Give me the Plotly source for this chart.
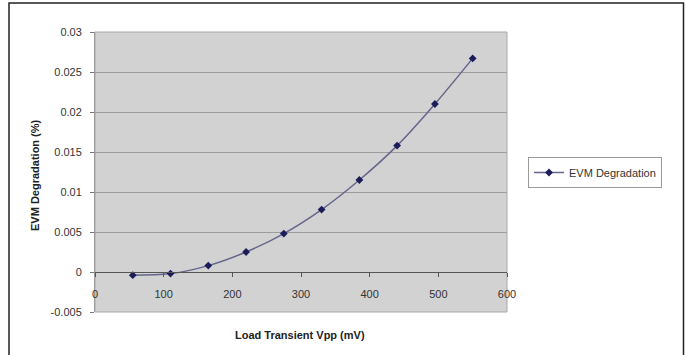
import plotly.graph_objects as go

load_mv = [55, 110, 165, 220, 275, 330, 385, 440, 495, 550]
evm_deg = [-0.0004, -0.0002, 0.0008, 0.0025, 0.0048, 0.0078, 0.0115, 0.0158, 0.0210, 0.0267]
series_name = "EVM Degradation"
x_ticks = [0, 100, 200, 300, 400, 500, 600]
y_ticks = [-0.005, 0, 0.005, 0.01, 0.015, 0.02, 0.025, 0.03]
y_ticktext = ["-0.005", "0", "0.005", "0.01", "0.015", "0.02", "0.025", "0.03"]

W, H = 687, 355
L, R, T, B = 95, 507, 32, 312
pw, ph = R - L, B - T

def px(x):
    return (x - L) / pw

def py(y):
    return (B - y) / ph

font = "Arial, Liberation Sans, sans-serif"

fig = go.Figure()
fig.add_trace(go.Scatter(
    x=load_mv, y=evm_deg, name=series_name, mode="lines+markers",
    line=dict(color="#66668c", width=1.5, shape="spline"),
    marker=dict(symbol="diamond", size=6, color="#1c1c5a"),
))

ymin, ymax = -0.005, 0.03
fig.update_layout(
    width=W, height=H,
    margin=dict(l=L, r=W - R, t=T, b=H - B, pad=0),
    paper_bgcolor="white",
    plot_bgcolor="#d2d2d2",
    font=dict(family=font, size=11, color="#333333"),
    showlegend=True,
    legend=dict(
        x=px(528), y=py(172.5), xanchor="left", yanchor="middle",
        bordercolor="#9a9a9a", borderwidth=1, bgcolor="white",
        font=dict(size=11, color="#333333"),
        itemwidth=30,
    ),
    xaxis=dict(
        range=[0, 600], tickvals=x_ticks, anchor="free",
        position=(0 - ymin) / (ymax - ymin),
        showgrid=False, zeroline=False, showline=True, linecolor="#555555", linewidth=1,
        ticks="outside", ticklen=4, tickcolor="#555555", ticklabelstandoff=8,
        tickfont=dict(size=11, color="#333333"),
    ),
    yaxis=dict(
        range=[ymin, ymax], tickvals=y_ticks, ticktext=y_ticktext,
        showgrid=True, gridcolor="#9c9c9c", gridwidth=1,
        zeroline=False, showline=True, linecolor="#9c9c9c",
        ticks="outside", ticklen=4, tickcolor="#777777", ticklabelstandoff=6,
        tickfont=dict(size=11, color="#333333"),
    ),
    shapes=[
        dict(type="rect", xref="paper", yref="paper",
             x0=px(9), x1=px(683.5), y0=py(358), y1=py(3),
             line=dict(color="#222222", width=1.5), fillcolor="rgba(0,0,0,0)", layer="above"),
        dict(type="rect", xref="paper", yref="paper",
             x0=0, x1=1, y0=0, y1=1,
             line=dict(color="#a8a8a8", width=1), fillcolor="rgba(0,0,0,0)", layer="below"),
    ],
    annotations=[
        dict(text="<b>EVM Degradation (%)</b>", xref="paper", yref="paper",
             x=px(35), y=py(175), textangle=-90, showarrow=False,
             font=dict(size=11, color="#222222"), xanchor="center", yanchor="middle"),
        dict(text="<b>Load Transient Vpp (mV)</b>", xref="paper", yref="paper",
             x=px(300), y=py(335), showarrow=False,
             font=dict(size=11, color="#222222"), xanchor="center", yanchor="middle"),
    ],
)

fig.write_html("out.html")
